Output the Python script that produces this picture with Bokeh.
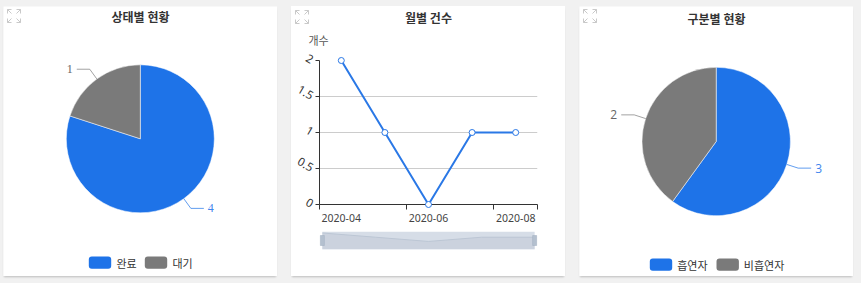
import math

from bokeh.core.properties import value
from bokeh.embed import file_html
from bokeh.layouts import column, row
from bokeh.models import (ColumnDataSource, FixedTicker, NumeralTickFormatter,
                          Range1d)
from bokeh.plotting import figure
from bokeh.resources import INLINE

# ---- data -------------------------------------------------------------
status_names = ["완료", "대기"]
status_counts = [4, 1]

type_names = ["흡연자", "비흡연자"]
type_counts = [3, 2]

months = ["2020-04", "2020-05", "2020-06", "2020-07", "2020-08"]
month_counts = [2, 1, 0, 1, 1]
y_ticks = [0, 0.5, 1, 1.5, 2]

# ---- styling ----------------------------------------------------------
BLUE = "#1e73e8"
LINE_BLUE = "#2a78e6"
GRAY = "#7a7a7a"
PAGE_BG = "#f1f1f1"
TEXT = "#333333"
KR = "Noto Sans CJK KR"
PANEL_W, PANEL_H = 274, 270
SHADOW = {"box-shadow": "0 2px 2px -1px rgba(0,0,0,0.22)"}


def draw_icon(p, x0, top, **kw):
    """Small 'expand' glyph: four corner arrows in a 13px square (y measured upward)."""
    s, a = 13, 4
    xs, ys = [], []
    for cx, cy, dx, dy in [(x0, top, 1, -1), (x0 + s, top, -1, -1),
                           (x0, top - s, 1, 1), (x0 + s, top - s, -1, 1)]:
        xs.append([cx, cx, cx + dx * a])
        ys.append([cy + dy * a, cy, cy])
        xs.append([cx, cx + dx * a])
        ys.append([cy, cy + dy * a])
    p.multi_line(xs=xs, ys=ys, line_color="#c9c9c9", line_width=1, **kw)


def pie_panel(title, names, counts, center, radius, title_y, legend_y,
              legend_x, label_font, margin):
    W, H = PANEL_W, PANEL_H
    p = figure(width=W, height=H, x_range=Range1d(0, W), y_range=Range1d(0, H),
               output_backend="svg", toolbar_location=None, min_border=0,
               margin=margin, styles=SHADOW)
    p.axis.visible = False
    p.grid.visible = False
    p.outline_line_color = None
    p.background_fill_color = "white"
    p.border_fill_color = "white"

    colors = [BLUE, GRAY]
    label_colors = ["#3f86ee", "#666666"]
    total = sum(counts)
    cx, cy = center[0], H - center[1]

    starts, ends, mids = [], [], []
    acc = 0
    for c in counts:
        a0 = math.pi / 2 - 2 * math.pi * (acc + c) / total
        a1 = math.pi / 2 - 2 * math.pi * acc / total
        starts.append(a0)
        ends.append(a1)
        mids.append((a0 + a1) / 2)
        acc += c

    src = ColumnDataSource(dict(start=starts, end=ends, color=colors[:len(counts)]))
    p.wedge(x=cx, y=cy, radius=radius, start_angle="start", end_angle="end",
            fill_color="color", line_color="white", line_width=0.5, source=src)

    # value labels with leader lines
    L1, L2, gap = 12, 13, 4
    for c, m, col, tcol in zip(counts, mids, colors, label_colors):
        ux, uy = math.cos(m), math.sin(m)
        x0, y0 = cx + radius * ux, cy + radius * uy
        x1, y1 = cx + (radius + L1) * ux, cy + (radius + L1) * uy
        side = 1 if ux >= 0 else -1
        x2 = x1 + side * L2
        p.line(x=[x0, x1, x2], y=[y0, y1, y1], line_color=col, line_alpha=0.7,
               line_width=1)
        p.text(x=[x2 + side * gap], y=[y1], text=[str(c)],
               text_font=value(label_font), text_font_size="12px",
               text_color=tcol, text_align="left" if side > 0 else "right",
               text_baseline="middle")

    # title
    p.text(x=[W / 2], y=[H - title_y], text=[title], text_font=value(KR),
           text_font_size="12px", text_font_style="bold", text_color=TEXT,
           text_align="center", text_baseline="middle")

    # legend
    ly = H - legend_y
    for (bx, tx), nm, col in zip(legend_x, names, colors):
        p.rect(x=[bx + 11.2], y=[ly], width=22.4, height=12.3, fill_color=col,
               line_color=None, border_radius=3)
        p.text(x=[tx], y=[ly], text=[nm], text_font=value(KR),
               text_font_size="11px", text_color=TEXT, text_align="left",
               text_baseline="middle")

    draw_icon(p, 4, H - 3)
    return p


fig_status = pie_panel("상태별 현황", status_names, status_counts,
                       center=(136.8, 132.3), radius=74, title_y=9.6,
                       legend_y=256.2, legend_x=[(85.3, 113), (141.3, 169)],
                       label_font="Liberation Serif", margin=(6, 0, 7, 3))

fig_type = pie_panel("구분별 현황", type_names, type_counts,
                     center=(136.7, 135), radius=74.2, title_y=11.5,
                     legend_y=258.2, legend_x=[(70.3, 97.7), (137, 164.3)],
                     label_font="Open Sans", margin=(6, 8, 7, 14))

# ---- monthly line chart (category slots, ticks on slot boundaries) ------
n = len(months)
idx = list(range(n))
LP_W, LP_H = 274, 222
lp = figure(width=LP_W, height=LP_H, x_range=Range1d(-0.5, n - 0.5),
            y_range=Range1d(0, 2), output_backend="svg", toolbar_location=None,
            min_border_left=28, min_border_right=28, min_border_top=54,
            min_border_bottom=24)
lp.outline_line_color = None
lp.background_fill_color = "white"
lp.border_fill_color = "white"
# panel-local pixel ranges for the header texts
lp.extra_x_ranges = {"px": Range1d(28, LP_W - 28)}
lp.extra_y_ranges = {"px": Range1d(24, LP_H - 54)}

lp.xgrid.visible = False
lp.ygrid.ticker = FixedTicker(ticks=y_ticks)
lp.ygrid.grid_line_color = "#cccccc"

yax = lp.yaxis[0]
yax.ticker = FixedTicker(ticks=y_ticks)
yax.formatter = NumeralTickFormatter(format="0.[0]")
yax.major_label_orientation = -math.pi / 6
yax.axis_line_color = TEXT
yax.major_tick_line_color = TEXT
yax.major_tick_out = 4
yax.major_tick_in = 0
yax.minor_tick_line_color = None
yax.major_label_standoff = 3
yax.major_label_text_font = "Noto Sans"
yax.major_label_text_font_size = "11.5px"
yax.major_label_text_color = TEXT

# labels on every other month, tick marks on slot boundaries
label_idx = idx[::2]
boundaries = [i - 0.5 for i in label_idx] + [n - 0.5]
xax = lp.xaxis[0]
xax.ticker = FixedTicker(ticks=label_idx, minor_ticks=boundaries)
xax.major_label_overrides = {i: months[i] for i in label_idx}
xax.axis_line_color = TEXT
xax.major_tick_line_color = None
xax.minor_tick_line_color = TEXT
xax.minor_tick_out = 5
xax.minor_tick_in = 0
xax.major_label_standoff = 3
xax.major_label_text_font = "Noto Sans"
xax.major_label_text_font_size = "10.5px"
xax.major_label_text_color = "#444444"

lsrc = ColumnDataSource(dict(x=idx, y=month_counts))
lp.line(x="x", y="y", source=lsrc, line_color=LINE_BLUE, line_width=2, level="overlay")
lp.scatter(x="x", y="y", source=lsrc, marker="circle", size=6, fill_color="white",
           line_color=LINE_BLUE, line_width=1, level="overlay")

lp.text(x=[LP_W / 2], y=[LP_H - 11.3], text=["월별 건수"], text_font=value(KR),
        text_font_size="12px", text_font_style="bold", text_color=TEXT,
        text_align="center", text_baseline="middle",
        x_range_name="px", y_range_name="px", level="overlay")
lp.text(x=[17], y=[LP_H - 33], text=["개수"], text_font=value(KR),
        text_font_size="11px", text_color="#555555", text_align="left",
        text_baseline="middle", x_range_name="px", y_range_name="px", level="overlay")
draw_icon(lp, 4, LP_H - 4, x_range_name="px", y_range_name="px", level="overlay")

# ---- zoom slider under the line chart -------------------------------------
SP_LO, SP_HI = -1.9, 2.35
sp = figure(width=274, height=48, x_range=Range1d(-0.054, n - 1 + 0.054),
            y_range=Range1d(SP_LO, SP_HI), output_backend="svg",
            toolbar_location=None, min_border_left=26, min_border_right=21,
            min_border_top=3, min_border_bottom=27)
sp.axis.visible = False
sp.grid.visible = False
sp.outline_line_color = None
sp.background_fill_color = "white"
sp.border_fill_color = "white"
sp.quad(left=[idx[0]], right=[idx[-1]], bottom=[SP_LO], top=[SP_HI],
        fill_color="#d6dde7", line_color=None)
sp.varea(x=idx, y1=[SP_LO] * n, y2=month_counts, fill_color="#c3ccd9",
         fill_alpha=0.6)
sp.line(x=idx, y=month_counts, line_color="#bcc6d4", line_width=1)
sp.rect(x=[idx[0], idx[-1]], y=[(SP_LO + SP_HI) / 2] * 2, width=4, height=10,
        width_units="screen", height_units="screen", fill_color="#b4c0cf",
        line_color="#9fadbf", line_width=0.5, level="overlay")

panel2 = column(lp, sp, spacing=0, margin=(6, 0, 7, 14),
                styles=dict(SHADOW, **{"background-color": "white"}))

layout = row(fig_status, panel2, fig_type, spacing=0,
             styles={"background-color": PAGE_BG})

open("out.html", "w").write(file_html(layout, INLINE))
